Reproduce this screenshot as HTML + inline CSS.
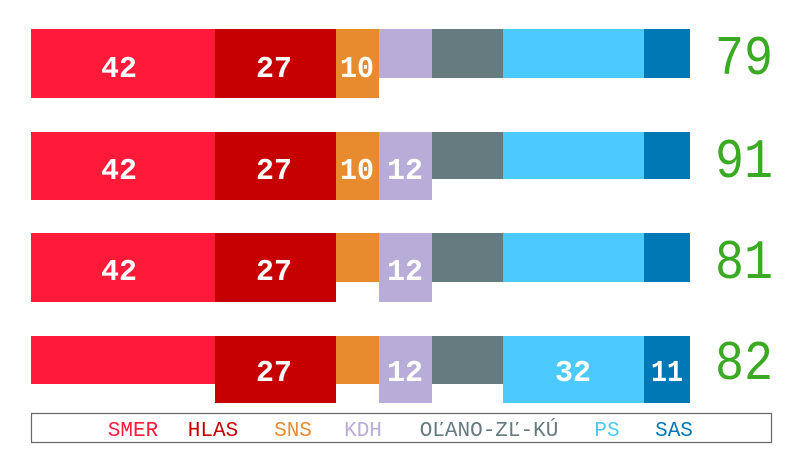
<!DOCTYPE html>
<html><head><meta charset="utf-8"><style>body{margin:0;background:#fff}svg{display:block}</style></head><body>
<svg width="800" height="450" xmlns="http://www.w3.org/2000/svg" font-family="Liberation Mono, monospace">
<g>
<rect x="31" y="29" width="184" height="69" fill="#ff1a3a"/>
<rect x="215" y="29" width="121" height="69" fill="#c60000"/>
<rect x="336" y="29" width="43" height="69" fill="#e88a2e"/>
<rect x="379" y="29" width="53" height="49" fill="#b8acd8"/>
<rect x="432" y="29" width="71" height="49" fill="#667b80"/>
<rect x="503" y="29" width="141" height="49" fill="#4ccafe"/>
<rect x="644" y="29" width="46" height="49" fill="#0078b5"/>
</g>
<g>
<rect x="31" y="132" width="184" height="68" fill="#ff1a3a"/>
<rect x="215" y="132" width="121" height="68" fill="#c60000"/>
<rect x="336" y="132" width="43" height="68" fill="#e88a2e"/>
<rect x="379" y="132" width="53" height="68" fill="#b8acd8"/>
<rect x="432" y="132" width="71" height="47" fill="#667b80"/>
<rect x="503" y="132" width="141" height="47" fill="#4ccafe"/>
<rect x="644" y="132" width="46" height="47" fill="#0078b5"/>
</g>
<g>
<rect x="31" y="233" width="184" height="69" fill="#ff1a3a"/>
<rect x="215" y="233" width="121" height="69" fill="#c60000"/>
<rect x="336" y="233" width="43" height="49" fill="#e88a2e"/>
<rect x="379" y="233" width="53" height="69" fill="#b8acd8"/>
<rect x="432" y="233" width="71" height="49" fill="#667b80"/>
<rect x="503" y="233" width="141" height="49" fill="#4ccafe"/>
<rect x="644" y="233" width="46" height="49" fill="#0078b5"/>
</g>
<g>
<rect x="31" y="336" width="184" height="48" fill="#ff1a3a"/>
<rect x="215" y="336" width="121" height="67" fill="#c60000"/>
<rect x="336" y="336" width="43" height="48" fill="#e88a2e"/>
<rect x="379" y="336" width="53" height="67" fill="#b8acd8"/>
<rect x="432" y="336" width="71" height="48" fill="#667b80"/>
<rect x="503" y="336" width="141" height="67" fill="#4ccafe"/>
<rect x="644" y="336" width="46" height="67" fill="#0078b5"/>
</g>
<g fill="#fff" font-size="31" text-anchor="middle" font-weight="bold" lengthAdjust="spacingAndGlyphs">
<text x="119" y="77" textLength="36" lengthAdjust="spacingAndGlyphs">42</text><text x="274" y="77" textLength="36" lengthAdjust="spacingAndGlyphs">27</text><text x="357" y="77" textLength="34" lengthAdjust="spacingAndGlyphs">10</text>
<text x="119" y="179" textLength="36" lengthAdjust="spacingAndGlyphs">42</text><text x="274" y="179" textLength="36" lengthAdjust="spacingAndGlyphs">27</text><text x="357" y="179" textLength="34" lengthAdjust="spacingAndGlyphs">10</text><text x="405" y="179" textLength="36" lengthAdjust="spacingAndGlyphs">12</text>
<text x="119" y="280" textLength="36" lengthAdjust="spacingAndGlyphs">42</text><text x="274" y="280" textLength="36" lengthAdjust="spacingAndGlyphs">27</text><text x="405" y="280" textLength="36" lengthAdjust="spacingAndGlyphs">12</text>
<text x="274" y="381" textLength="36" lengthAdjust="spacingAndGlyphs">27</text><text x="405" y="381" textLength="36" lengthAdjust="spacingAndGlyphs">12</text><text x="573" y="381" textLength="36" lengthAdjust="spacingAndGlyphs">32</text><text x="667" y="381" textLength="32" lengthAdjust="spacingAndGlyphs">11</text>
</g>
<g fill="#3aaa22" font-size="56" text-anchor="middle">
<text x="744" y="74" textLength="58" lengthAdjust="spacingAndGlyphs">79</text>
<text x="744" y="177" textLength="58" lengthAdjust="spacingAndGlyphs">91</text>
<text x="744" y="278" textLength="58" lengthAdjust="spacingAndGlyphs">81</text>
<text x="744" y="379" textLength="58" lengthAdjust="spacingAndGlyphs">82</text>
</g>
<rect x="31.5" y="413.5" width="740" height="29" fill="#fff" stroke="#666" stroke-width="1.2"/>
<g font-size="21" text-anchor="middle">
<text x="133" y="436" fill="#ff1a3a">SMER</text>
<text x="213" y="436" fill="#c60000">HLAS</text>
<text x="293" y="436" fill="#e88a2e">SNS</text>
<text x="363" y="436" fill="#b8acd8">KDH</text>
<text x="489" y="436" fill="#667b80">OĽANO-ZĽ-KÚ</text>
<text x="607" y="436" fill="#4ccafe">PS</text>
<text x="674" y="436" fill="#0078b5">SAS</text>
</g>
</svg>
</body></html>
